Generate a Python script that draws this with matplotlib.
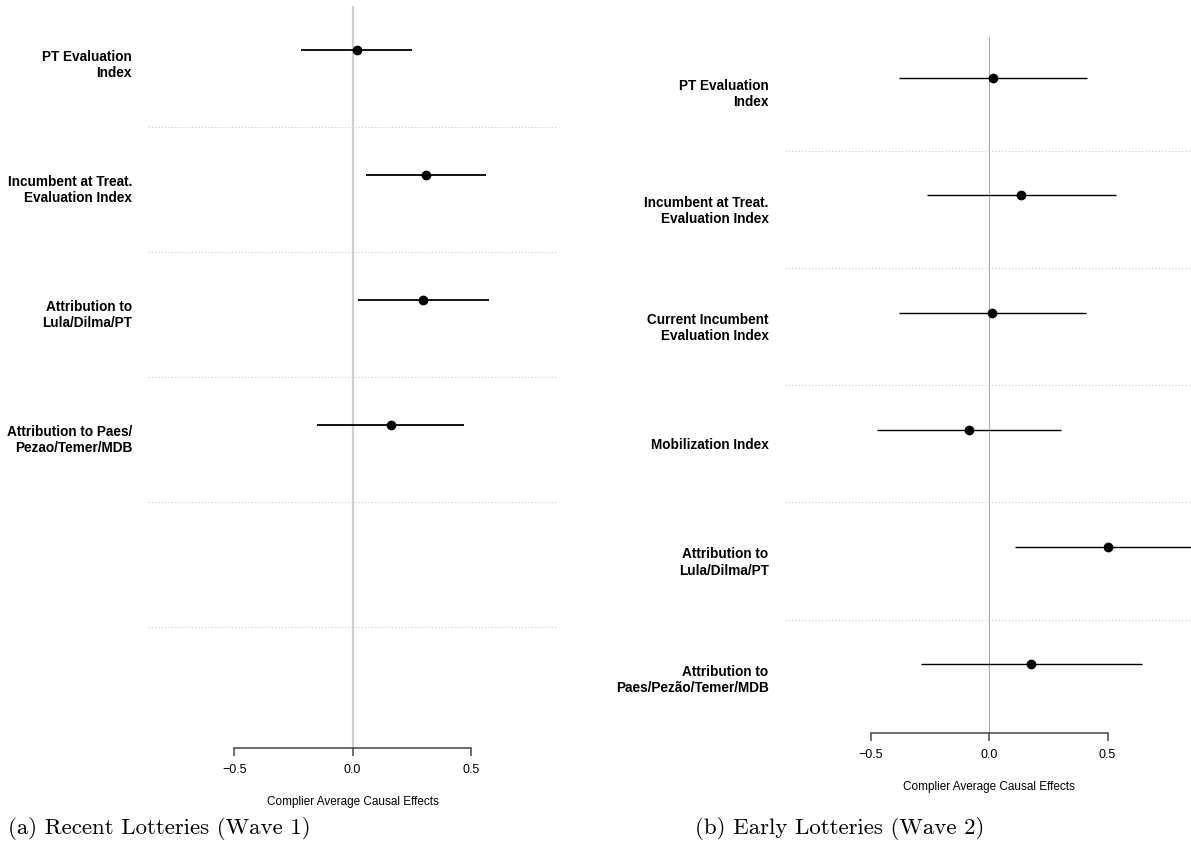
import matplotlib
matplotlib.use("Agg")
import matplotlib.pyplot as plt

# CACE estimates with 95% intervals, one row per outcome index
labels_w1 = ["PT Evaluation\nIndex",
             "Incumbent at Treat.\nEvaluation Index",
             "Attribution to\nLula/Dilma/PT",
             "Attribution to Paes/\nPezao/Temer/MDB"]
est_w1 = [0.017, 0.309, 0.300, 0.161]
lo_w1 = [-0.216, 0.055, 0.024, -0.149]
hi_w1 = [0.251, 0.564, 0.576, 0.471]

labels_w2 = ["PT Evaluation\nIndex",
             "Incumbent at Treat.\nEvaluation Index",
             "Current Incumbent\nEvaluation Index",
             "Mobilization Index",
             "Attribution to\nLula/Dilma/PT",
             "Attribution to\nPaes/Pezão/Temer/MDB"]
est_w2 = [0.017, 0.134, 0.013, -0.087, 0.500, 0.177]
lo_w2 = [-0.380, -0.263, -0.380, -0.473, 0.110, -0.287]
hi_w2 = [0.414, 0.534, 0.407, 0.301, 0.890, 0.644]

n_rows = 6
xticks = [-0.5, 0.0, 0.5]
xtick_labels = ["\u22120.5", "0.0", "0.5"]
captions = ["(a) Recent Lotteries (Wave 1)", "(b) Early Lotteries (Wave 2)"]

plt.rcParams['font.family'] = ['Liberation Sans', 'DejaVu Sans']

fig = plt.figure(figsize=(11.91, 8.57), dpi=100)
ax1 = fig.add_axes([148 / 1191, 1 - 748 / 857, 409 / 1191, 742 / 857])
ax2 = fig.add_axes([784.6 / 1191, 1 - 732.7 / 857, 409.4 / 1191, 695.4 / 857])


def coef_panel(ax, labels, est, lo, hi, lw, zero_col, zero_lw):
    rows = list(range(1, len(labels) + 1))
    ax.set_xlim(-0.865, 0.865)
    ax.set_ylim(6.585, 0.65)
    ax.axvline(0, color=zero_col, lw=zero_lw, zorder=1)
    # dotted separators between the row slots (labels sit a bit below the dots)
    for k in range(1, n_rows):
        ax.axhline(k + 0.62, color='#c8c8c8', lw=0.8, ls=(0, (1, 2)), zorder=0)
    ax.hlines(rows, lo, hi, color='black', lw=lw, zorder=2)
    ax.plot(est, rows, 'o', color='black', ms=6, zorder=3)
    for r, lab in zip(rows, labels):
        ax.annotate(lab, xy=(0, r), xycoords=('axes fraction', 'data'),
                    xytext=(-16, -15.5), textcoords='offset pixels',
                    ha='right', va='center', multialignment='right',
                    fontsize=9.8, fontweight='bold', linespacing=1.2)
    for side in ['top', 'right', 'left']:
        ax.spines[side].set_visible(False)
    ax.spines['bottom'].set_bounds(-0.5, 0.5)
    ax.spines['bottom'].set_color('#444444')
    ax.spines['bottom'].set_linewidth(1.1)
    ax.set_yticks([])
    ax.set_xticks(xticks)
    ax.set_xticklabels(xtick_labels, fontsize=9)
    ax.tick_params(axis='x', direction='out', length=5.8, width=1.1,
                   color='#444444', pad=6)
    ax.set_xlabel('Complier Average Causal Effects', fontsize=8.5, labelpad=14)
    ax.patch.set_alpha(0)


coef_panel(ax1, labels_w1, est_w1, lo_w1, hi_w1, 1.3, '#cfcfcf', 1.6)
coef_panel(ax2, labels_w2, est_w2, lo_w2, hi_w2, 1.0, '#aaaaaa', 0.8)

fig.text(159 / 1191, 1 - 828 / 857, captions[0], family='cmr10', fontsize=16.5,
         ha='center', va='center')
fig.text(840 / 1191, 1 - 828 / 857, captions[1], family='cmr10', fontsize=16.5,
         ha='center', va='center')

fig.savefig('out.png', dpi=100)
